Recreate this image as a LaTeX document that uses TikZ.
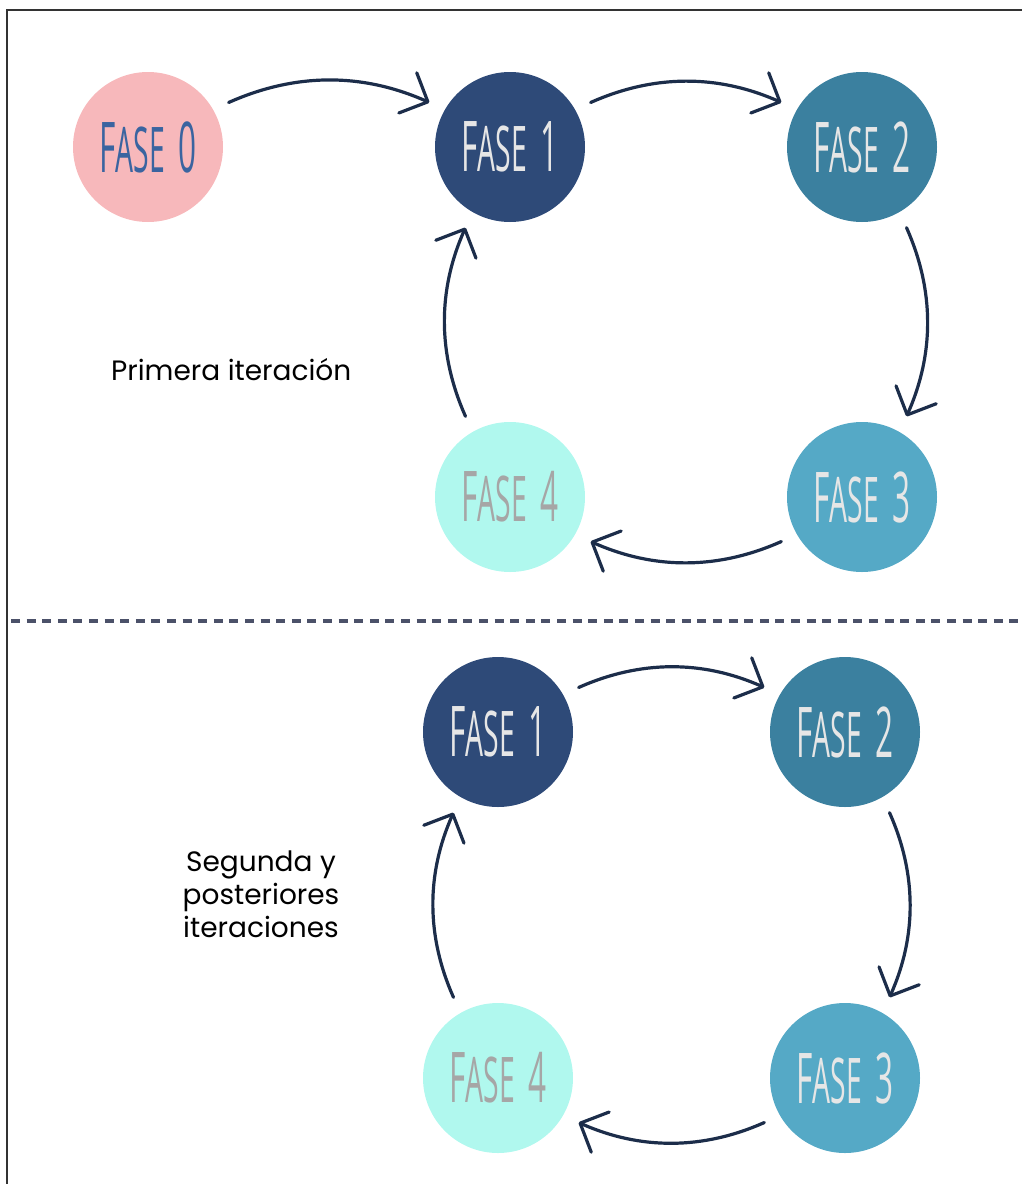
\documentclass[tikz,border=0pt]{standalone}
\usepackage{fontspec}
\usepackage{graphicx}
\setmainfont{Poppins}
\newfontfamily\fasefont{Open Sans}
\usetikzlibrary{arrows.meta}
\definecolor{cfill0}{HTML}{F7B8BB}
\definecolor{ctext0}{HTML}{3A64A0}
\definecolor{cfill1}{HTML}{2E4A78}
\definecolor{cfill2}{HTML}{3B809F}
\definecolor{cfill3}{HTML}{55A9C6}
\definecolor{cfill4}{HTML}{B0F8EE}
\definecolor{clight}{HTML}{E6E6E6}
\definecolor{cgrey}{HTML}{A6A6A6}
\definecolor{carrow}{HTML}{1C2D4A}
\definecolor{cdash}{HTML}{4B5169}
\definecolor{cframe}{HTML}{333333}
\newcommand{\fasetxt}[1]{\scalebox{0.45}[1]{\fasefont\fontsize{70}{70}\selectfont F\fontsize{63}{63}\selectfont ASE\hspace{30pt}\fontsize{70}{70}\selectfont #1}}
\tikzset{
  fase/.style={circle, minimum size=150pt, inner sep=0pt, draw=none},
  cyc/.style={draw=carrow, line width=3.2pt, line cap=round,
    -{Straight Barb[length=22pt,width=44pt,line width=3.2pt,round]},
    shorten <=17pt, shorten >=17pt, bend left=24},
  lbl/.style={font=\fontsize{28}{33}\selectfont, text=black, inner sep=0pt},
  sep/.style={draw=cdash, line width=3.6pt, dash pattern=on 9pt off 6.6pt},
  frame/.style={draw=cframe, line width=1.8pt}
}
\begin{document}
\begin{tikzpicture}[x=1pt,y=-1pt]
\useasboundingbox (0,0) rectangle (1022,1184);
% frame
\coordinate (fa) at (7,1184);
\coordinate (fb) at (7,10);
\coordinate (fc) at (1022,10);
\draw[frame] (fa) -- (fb) -- (fc);
% top section
\node[fase, fill=cfill0, text=ctext0] (f0) at (148,147) {\fasetxt{0}};
\node[fase, fill=cfill1, text=clight] (f1) at (510,147) {\fasetxt{1}};
\node[fase, fill=cfill2, text=clight] (f2) at (862,147) {\fasetxt{2}};
\node[fase, fill=cfill3, text=clight] (f3) at (862,497) {\fasetxt{3}};
\node[fase, fill=cfill4, text=cgrey] (f4) at (510,497) {\fasetxt{4}};
\draw[cyc] (f0.30) to (f1.150);
\draw[cyc] (f1.30) to (f2.150);
\draw[cyc] (f2.-60) to (f3.60);
\draw[cyc] (f3.210) to (f4.-30);
\draw[cyc] (f4.120) to (f1.240);
\node[lbl, anchor=west] (t1) at (111,370) {Primera iteración};
% separator
\coordinate (sa) at (11,621);
\coordinate (sb) at (1022,621);
\draw[sep] (sa) -- (sb);
% bottom section
\node[fase, fill=cfill1, text=clight] (g1) at (498,732) {\fasetxt{1}};
\node[fase, fill=cfill2, text=clight] (g2) at (845,732) {\fasetxt{2}};
\node[fase, fill=cfill3, text=clight] (g3) at (845,1078) {\fasetxt{3}};
\node[fase, fill=cfill4, text=cgrey] (g4) at (498,1078) {\fasetxt{4}};
\draw[cyc] (g1.30) to (g2.150);
\draw[cyc] (g2.-60) to (g3.60);
\draw[cyc] (g3.210) to (g4.-30);
\draw[cyc] (g4.120) to (g1.240);
\node[lbl, align=center] (t2) at (261,894) {Segunda y\\posteriores\\iteraciones};
\end{tikzpicture}
\end{document}
